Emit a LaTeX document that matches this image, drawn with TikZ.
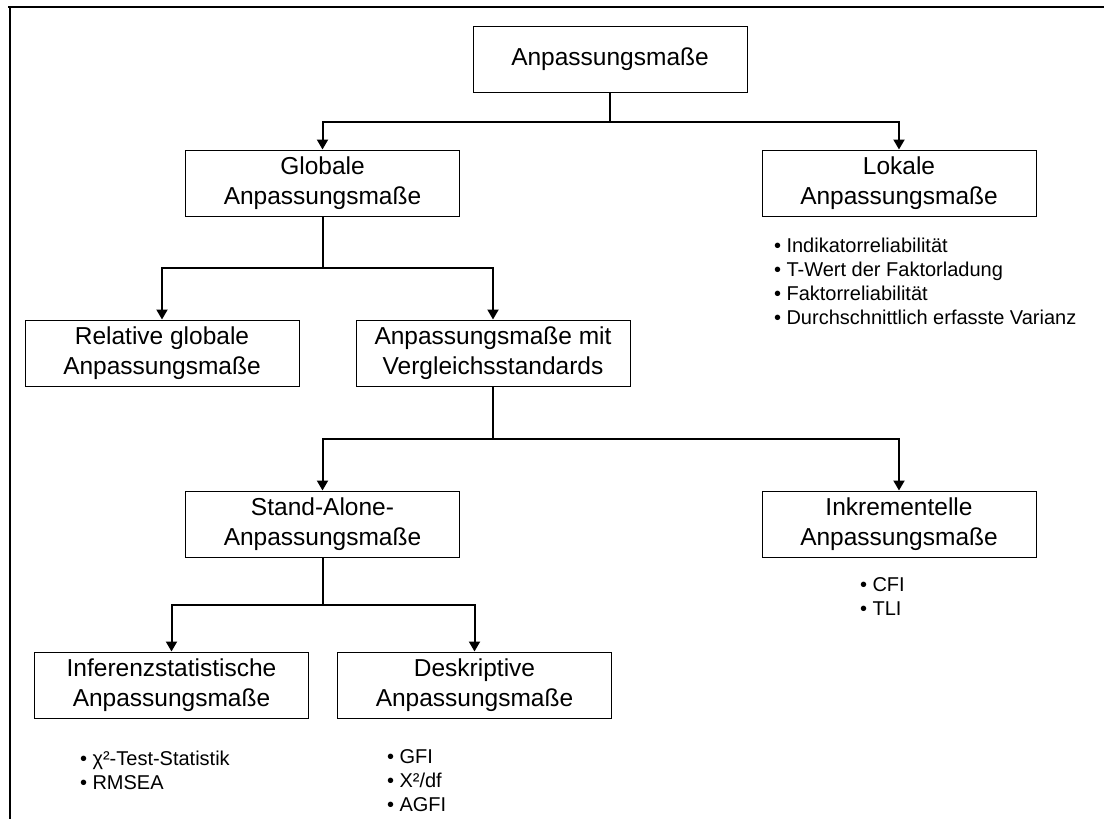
\documentclass[tikz,border=0pt]{standalone}
\usepackage{fontspec}
\setmainfont{Liberation Sans}
\usetikzlibrary{arrows.meta}
\newcommand{\boxfont}{\fontsize{24.5}{30}\selectfont}
\newcommand{\listfont}{\fontsize{20}{24}\selectfont}
\tikzset{
  mass/.style={draw,line width=1pt,minimum width=274pt,minimum height=66pt,align=center,font=\boxfont,inner sep=0pt},
  liste/.style={anchor=north west,align=left,font=\listfont,inner sep=0pt},
}

\begin{document}
\begin{tikzpicture}[x=1pt,y=-1pt,line width=2pt,>={Triangle[width=11pt,length=10pt]}]
      \useasboundingbox (0,0) rectangle (1104,819);
      % frame
      \draw (8,7) -- (1104,7);
      \draw (10,7) -- (10,819);
      % boxes
      \node[mass](root) at (610,59) {Anpassungsmaße};
      \node[mass](glob) at (322.5,183) {Globale\\Anpassungsmaße};
      \node[mass](lok) at (899,183) {Lokale\\Anpassungsmaße};
      \node[mass](rel) at (162,353) {Relative globale\\Anpassungsmaße};
      \node[mass](verg) at (493,353) {Anpassungsmaße mit\\Vergleichsstandards};
      \node[mass](stand) at (322.5,524) {Stand-Alone-\\Anpassungsmaße};
      \node[mass](inkr) at (899,524) {Inkrementelle\\Anpassungsmaße};
      \node[mass](infer) at (171.5,685) {Inferenzstatistische\\Anpassungsmaße};
      \node[mass](deskr) at (474.5,685) {Deskriptive\\Anpassungsmaße};
      % lists
      \node[liste](loklist) at (773,237) {• Indikatorreliabilität\\• T-Wert der Faktorladung\\• Faktorreliabilität\\• Durchschnittlich erfasste Varianz};
      \node[liste](inkrlist) at (859,577) {• CFI\\• TLI};
      \node[liste](inferlist) at (79,750) {• χ²-Test-Statistik\\• RMSEA};
      \node[liste](deskrlist) at (386,749) {• GFI\\• X²/df\\• AGFI};
      % connectors
      \coordinate(j1) at (610,122);
      \coordinate(j2) at (322.5,268);
      \coordinate(j3) at (493,439);
      \coordinate(j4) at (322.5,605);
      \draw (root) -- (j1);
      \draw[->] (j1) -| (glob);
      \draw[->] (j1) -| (lok);
      \draw (glob) -- (j2);
      \draw[->] (j2) -| (rel);
      \draw[->] (j2) -| (verg);
      \draw (verg) -- (j3);
      \draw[->] (j3) -| (stand);
      \draw[->] (j3) -| (inkr);
      \draw (stand) -- (j4);
      \draw[->] (j4) -| (infer);
      \draw[->] (j4) -| (deskr);
    \end{tikzpicture}
\end{document}
